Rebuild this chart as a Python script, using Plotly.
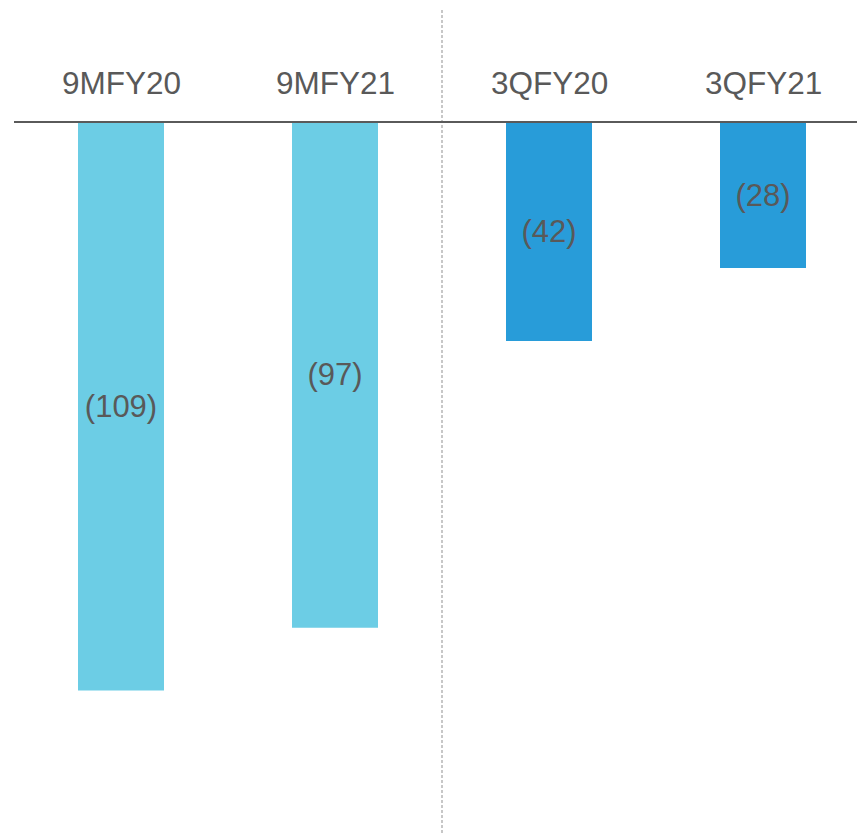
import plotly.graph_objects as go

# Period labels and values (negative figures shown in parentheses)
categories = ["9MFY20", "9MFY21", "3QFY20", "3QFY21"]
values = [-109, -97, -42, -28]
bar_colors = ["#6CCDE5", "#6CCDE5", "#289CD9", "#289CD9"]

FONT = "Arial, 'Liberation Sans', sans-serif"
TEXT_GREY = "#595959"

W, H = 857, 835
LEFT = 14
ZERO_PX = 122          # pixel row of the zero line
PX_PER_UNIT = 5.215    # vertical scale
SLOT_PX = 214          # horizontal spacing between bar centres

x_pos = list(range(len(categories)))
labels = [f"({abs(v)})" if v < 0 else f"{v}" for v in values]

fig = go.Figure()
fig.add_trace(go.Bar(
    x=x_pos,
    y=values,
    width=86 / SLOT_PX,
    marker=dict(color=bar_colors, line=dict(width=0)),
    text=labels,
    textposition="inside",
    insidetextanchor="middle",
    textangle=0,
    textfont=dict(family=FONT, size=31, color=TEXT_GREY),
    hoverinfo="skip",
))

y_top = ZERO_PX / PX_PER_UNIT
y_bottom = -(H - ZERO_PX) / PX_PER_UNIT
x_start = -0.5
x_end = x_start + (W - LEFT) / SLOT_PX

# category headings above the zero line
label_y = (ZERO_PX - 83) / PX_PER_UNIT
for i, c in enumerate(categories):
    fig.add_annotation(
        x=i, y=label_y, text=c, showarrow=False,
        xanchor="center", yanchor="middle",
        font=dict(family=FONT, size=31.5, color=TEXT_GREY),
    )

# zero line
fig.add_shape(type="line", xref="paper", yref="y", x0=0, x1=1, y0=0, y1=0,
              line=dict(color="#5A5A5A", width=2), layer="above")
# dashed divider between nine-month and quarterly figures
fig.add_shape(type="line", xref="x", yref="y", x0=1.5, x1=1.5,
              y0=(ZERO_PX - 10) / PX_PER_UNIT, y1=y_bottom,
              line=dict(color="#B5B5B5", width=1.5, dash="3px,2px"), layer="below")

fig.update_layout(
    width=W, height=H,
    margin=dict(l=LEFT, r=0, t=0, b=0),
    paper_bgcolor="white", plot_bgcolor="white",
    showlegend=False,
    hovermode=False,
    xaxis=dict(range=[x_start, x_end], visible=False, fixedrange=True),
    yaxis=dict(range=[y_bottom, y_top], visible=False, fixedrange=True),
    uniformtext=dict(minsize=8, mode="show"),
)

fig.write_html("out.html")
